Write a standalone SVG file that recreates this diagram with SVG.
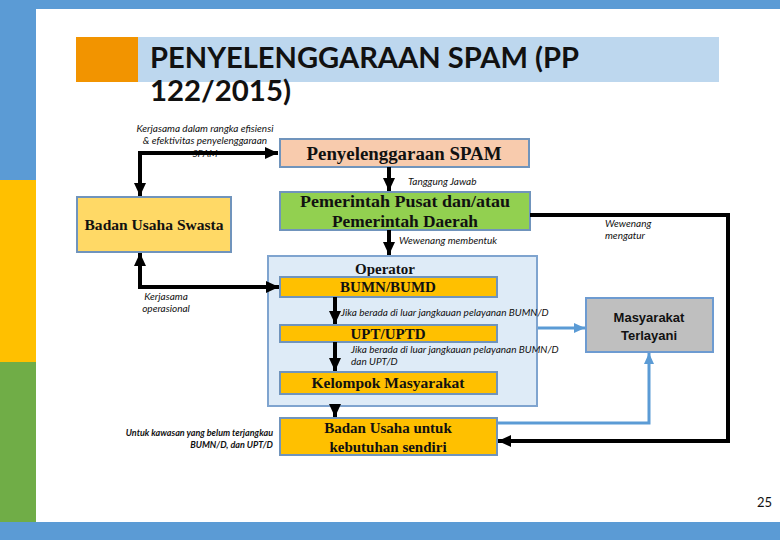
<svg xmlns="http://www.w3.org/2000/svg" width="780" height="540" viewBox="0 0 780 540">
<defs>
<style>
.node{stroke:#7094BC;stroke-width:2}
.serif{font-family:"Liberation Serif","DejaVu Serif",serif;font-weight:bold;fill:#111;text-anchor:middle}
.lbl{font-family:Lato,"Open Sans",sans-serif;font-style:italic;font-size:10px;fill:#111}
.lbs{font-family:Lato,"Open Sans",sans-serif;font-style:italic;font-weight:bold;font-size:9px;fill:#111;text-anchor:end}
.blk{fill:none;stroke:#000;stroke-width:4}
.blu{fill:none;stroke:#5B9BD5;stroke-width:3}
.title{font-family:Lato,"Open Sans",sans-serif;font-weight:bold;font-size:28px;fill:#111}
</style>
<marker id="ab" markerUnits="userSpaceOnUse" markerWidth="14" markerHeight="14" viewBox="0 0 14 14" refX="13" refY="7" orient="auto-start-reverse">
<path d="M0,1 L13,7 L0,13 Z" fill="#000"/>
</marker>
<marker id="au" markerUnits="userSpaceOnUse" markerWidth="12" markerHeight="12" viewBox="0 0 12 12" refX="11" refY="6" orient="auto">
<path d="M0,1 L11,6 L0,11 Z" fill="#5B9BD5"/>
</marker>
</defs>
<rect width="780" height="540" fill="#fff"/>
<g id="frame">
<rect x="0" y="0" width="780" height="9" fill="#5B9BD5"/>
<rect x="0" y="0" width="36" height="180" fill="#5B9BD5"/>
<rect x="0" y="180" width="36" height="182" fill="#FFC000"/>
<rect x="0" y="362" width="36" height="160" fill="#70AD47"/>
<rect x="0" y="522" width="780" height="18" fill="#5B9BD5"/>
<rect x="76" y="37" width="62" height="45" fill="#F29400"/>
<rect x="138" y="37" width="581" height="45" fill="#BDD7EE"/>
<text x="150" y="68" class="title" textLength="429" lengthAdjust="spacingAndGlyphs">PENYELENGGARAAN SPAM (PP</text>
<text x="150" y="101" class="title" textLength="141" lengthAdjust="spacingAndGlyphs">122/2015)</text>
<text x="772" y="507" font-family="Lato,'Open Sans',sans-serif" font-size="13" fill="#111" text-anchor="end">25</text>
</g>
<g id="operator">
<rect x="268" y="256" width="269" height="150" fill="#DEEBF7" stroke="#7FA4CF" stroke-width="2"/>
<text x="385" y="274" class="serif" font-size="15">Operator</text>
</g>
<g id="penyelenggaraan">
<rect class="node" x="280" y="139" width="249" height="28" fill="#F8CBAD"/>
<text x="404" y="160" class="serif" font-size="18" textLength="195" lengthAdjust="spacingAndGlyphs">Penyelenggaraan SPAM</text>
</g>
<g id="swasta">
<rect class="node" x="77" y="197" width="154" height="55" fill="#FFD966"/>
<text x="154" y="230" class="serif" font-size="15" textLength="139" lengthAdjust="spacingAndGlyphs">Badan Usaha Swasta</text>
</g>
<g id="pemerintah">
<rect class="node" x="280" y="192" width="250" height="38" fill="#92D050"/>
<text x="405" y="207" class="serif" font-size="17" textLength="210" lengthAdjust="spacingAndGlyphs">Pemerintah Pusat dan/atau</text>
<text x="405" y="227" class="serif" font-size="17" textLength="146" lengthAdjust="spacingAndGlyphs">Pemerintah Daerah</text>
</g>
<g id="bumn">
<rect class="node" x="280" y="277" width="217" height="20" fill="#FFC000" stroke="#8497B0"/>
<text x="388" y="292" class="serif" font-size="15">BUMN/BUMD</text>
</g>
<g id="uptd">
<rect class="node" x="280" y="325" width="217" height="17" fill="#FFC000"/>
<text x="388" y="339" class="serif" font-size="15">UPT/UPTD</text>
</g>
<g id="kelompok">
<rect class="node" x="280" y="372" width="217" height="22" fill="#FFC000"/>
<text x="388" y="388" class="serif" font-size="15" textLength="153" lengthAdjust="spacingAndGlyphs">Kelompok Masyarakat</text>
</g>
<g id="badanusaha">
<rect class="node" x="280" y="418" width="217" height="37" fill="#FFC000"/>
<text x="388" y="433" class="serif" font-size="15">Badan Usaha untuk</text>
<text x="388" y="452" class="serif" font-size="15">kebutuhan sendiri</text>
</g>
<g id="terlayani">
<rect x="586" y="298" width="127" height="54" fill="#BFBFBF" stroke="#6D9BD1" stroke-width="2"/>
<text x="649" y="322" font-family="'Liberation Sans',Arial,sans-serif" font-weight="bold" font-size="13" fill="#111" text-anchor="middle">Masyarakat</text>
<text x="649" y="340" font-family="'Liberation Sans',Arial,sans-serif" font-weight="bold" font-size="13" fill="#111" text-anchor="middle">Terlayani</text>
</g>
<g id="connectors">
<text class="lbl" x="205" y="132" text-anchor="middle">Kerjasama dalam rangka efisiensi</text>
<text class="lbl" x="205" y="144" text-anchor="middle">&amp; efektivitas penyelenggaraan</text>
<text class="lbl" x="205" y="157" text-anchor="middle">SPAM</text>
<text class="lbl" x="408" y="185">Tanggung Jawab</text>
<text class="lbl" x="399" y="244">Wewenang membentuk</text>
<text class="lbl" x="605" y="227">Wewenang</text>
<text class="lbl" x="605" y="239">mengatur</text>
<text class="lbl" x="166" y="300" text-anchor="middle">Kerjasama</text>
<text class="lbl" x="166" y="312" text-anchor="middle">operasional</text>
<text class="lbl" x="341" y="316">Jika berada di luar jangkauan pelayanan BUMN/D</text>
<text class="lbl" x="351" y="353">Jika berada di luar jangkauan pelayanan BUMN/D</text>
<text class="lbl" x="351" y="365">dan UPT/D</text>
<text class="lbs" x="273" y="436">Untuk kawasan yang belum terjangkau</text>
<text class="lbs" x="273" y="448">BUMN/D, dan UPT/D</text>
<path class="blk" d="M140,196 V153 H278" marker-start="url(#ab)" marker-end="url(#ab)"/>
<path class="blk" d="M389,167 V191" marker-end="url(#ab)"/>
<path class="blk" d="M389,230 V255" marker-end="url(#ab)"/>
<path class="blk" d="M140,253 V287 H279" marker-start="url(#ab)" marker-end="url(#ab)"/>
<path class="blk" d="M335,297 V324" marker-end="url(#ab)"/>
<path class="blk" d="M335,342 V371" marker-end="url(#ab)"/>
<path class="blk" d="M335,406 V417" marker-end="url(#ab)"/>
<path class="blk" d="M530,215 H728 V441 H498" marker-end="url(#ab)"/>
<path class="blu" d="M538,328 H585" marker-end="url(#au)"/>
<path class="blu" d="M498,423 H649 V353" marker-end="url(#au)"/>
</g>
</svg>
